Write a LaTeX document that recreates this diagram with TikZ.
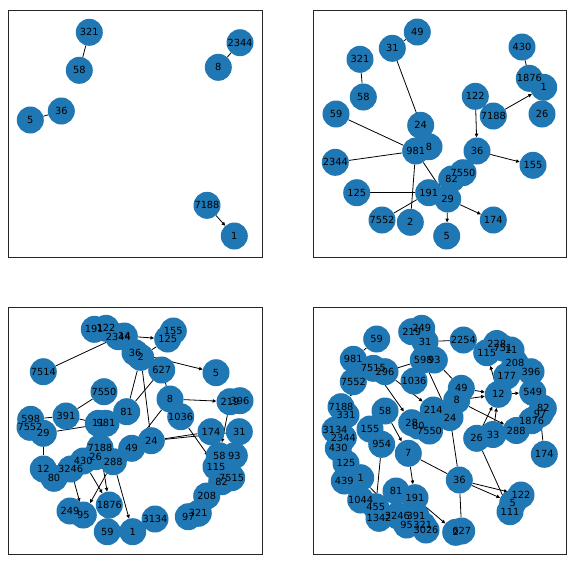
\documentclass[tikz,border=0pt]{standalone}
\usepackage{fontspec}
\setmainfont{DejaVu Sans}
\usetikzlibrary{arrows.meta}
\definecolor{nxblue}{HTML}{1F77B4}
\pgfdeclarelayer{edges}
\pgfdeclarelayer{disks}
\pgfsetlayers{edges,disks,main}
% vertex: name, x, y, label (disk goes below every label)
\newcommand{\vtx}[4]{%
  \node[vtx] (#1) at (#2,#3) {#4};
  \begin{pgfonlayer}{disks}\fill[nxblue] (#2,#3) circle[radius=13.5];\end{pgfonlayer}}
\begin{document}
\begin{tikzpicture}[
    x=1pt, y=-1pt,
    vtx/.style={circle, minimum size=27pt, inner sep=0pt, font=\fontsize{9.8}{11}\selectfont},
    arc/.style={-{Triangle[length=3.6pt,width=3.4pt]}, line width=0.8pt},
    link/.style={line width=0.8pt},
    frame/.style={line width=0.7pt, draw=black!85}
]
    \useasboundingbox (0,0) rectangle (577,566);

    % Frames
    \draw[frame] (8.3,10) rectangle (262.7,257.3);
    \draw[frame] (313.3,10) rectangle (566.7,257.3);
    \draw[frame] (8.3,307.3) rectangle (262.7,554);
    \draw[frame] (313.3,307.3) rectangle (566.7,554);

    % Top left
    \vtx{a321}{89.3}{32.3}{321}  \vtx{a58}{79.3}{70.3}{58}
    \vtx{a2344}{240}{42.7}{2344} \vtx{a8}{218.3}{67.3}{8}
    \vtx{a36}{61.3}{111}{36}     \vtx{a5}{30.3}{120}{5}
    \vtx{a7188}{207}{205.3}{7188} \vtx{a1}{234.3}{236}{1}
    \begin{pgfonlayer}{edges}
        \draw[link] (a58) -- (a321);
        \draw[link] (a8) -- (a2344);
        \draw[link] (a36) -- (a5);
        \draw[arc] (a7188) -- (a1);
    \end{pgfonlayer}

    % Top right
    \vtx{b49}{417.3}{32}{49}     \vtx{b31}{392.3}{48.3}{31}
    \vtx{b321}{360}{59.3}{321}   \vtx{b58}{363.3}{97}{58}
    \vtx{b59}{336}{114}{59}      \vtx{b24}{420.7}{125.3}{24}
    \vtx{b430}{522}{47}{430}     \vtx{b1876}{529.3}{78.3}{1876}
    \vtx{b1}{543.7}{87.3}{1}     \vtx{b26}{542}{114}{26}
    \vtx{b122}{475.3}{96.3}{122} \vtx{b7188}{493.3}{116}{7188}
    \vtx{b981}{415.7}{151}{981}  \vtx{b8}{429}{146.7}{8}
    \vtx{b36}{477}{151}{36}      \vtx{b155}{533}{165.3}{155}
    \vtx{b2344}{335.3}{162.3}{2344}
    \vtx{b7550}{463}{172.7}{7550} \vtx{b82}{451.7}{179}{82}
    \vtx{b191}{428.7}{192.7}{191} \vtx{b29}{447.7}{199}{29}
    \vtx{b125}{356.7}{192.7}{125} \vtx{b7552}{382}{220}{7552}
    \vtx{b2}{410.3}{222.3}{2}    \vtx{b174}{493.3}{220}{174}
    \vtx{b5}{446.7}{236}{5}
    \begin{pgfonlayer}{edges}
        \draw[link] (b49) -- (b31);
        \draw[arc] (b31) -- (b8);
        \draw[link] (b321) -- (b58);
        \draw[link] (b59) -- (b981);
        \draw[link] (b2344) -- (b981);
        \draw[link] (b981) -- (b2);
        \draw[arc] (b981) -- (b29);
        \draw[link] (b7552) -- (b191);
        \draw[link] (b125) -- (b191);
        \draw[arc] (b122) -- (b36);
        \draw[arc] (b36) -- (b155);
        \draw[arc] (b7188) -- (b1);
        \draw[link] (b430) -- (b1876);
        \draw[arc] (b29) -- (b174);
        \draw[arc] (b29) -- (b5);
    \end{pgfonlayer}

    % Bottom left
    \vtx{c191}{94.3}{329.3}{191}  \vtx{c122}{106}{328.3}{122}
    \vtx{c2344}{118.3}{336.7}{2344} \vtx{c14}{124.3}{336}{14}
    \vtx{c36}{135}{352.7}{36}     \vtx{c2}{140.7}{357.3}{2}
    \vtx{c155}{173.3}{331}{155}   \vtx{c125}{167.7}{339}{125}
    \vtx{c627}{161.7}{370}{627}   \vtx{c5}{216}{372.7}{5}
    \vtx{c7514}{43.3}{371.7}{7514} \vtx{c7550}{104}{391.7}{7550}
    \vtx{c391}{66}{416}{391}      \vtx{c81}{126.7}{411.7}{81}
    \vtx{c11}{98.3}{423.3}{11}    \vtx{c981}{106}{423.3}{981}
    \vtx{c598}{30.7}{419.3}{598}  \vtx{c7552}{30}{427.3}{7552}
    \vtx{c29}{43.3}{433.3}{29}    \vtx{c8}{170}{399}{8}
    \vtx{c1036}{180.7}{416.7}{1036}
    \vtx{c219}{230}{401.7}{219}   \vtx{c396}{240}{400.7}{396}
    \vtx{c174}{211}{431.7}{174}   \vtx{c31}{239.3}{431.7}{31}
    \vtx{c24}{151.3}{440.7}{24}   \vtx{c49}{131.7}{448.3}{49}
    \vtx{c58}{219.3}{455.7}{58}   \vtx{c93}{234.3}{455.7}{93}
    \vtx{c115}{216}{466.7}{115}   \vtx{c7515}{231.7}{477.7}{7515}
    \vtx{c82}{221.7}{481.7}{82}   \vtx{c208}{206.7}{496}{208}
    \vtx{c321}{198.3}{513.3}{321} \vtx{c97}{188.3}{516.7}{97}
    \vtx{c3134}{155}{519}{3134}   \vtx{c1}{132.7}{531.7}{1}
    \vtx{c12}{43.3}{469}{12}      \vtx{c80}{54}{478.3}{80}
    \vtx{c3246}{70.7}{469}{3246}  \vtx{c430}{83.3}{461}{430}
    \vtx{c26}{95.7}{456.7}{26}    \vtx{c7188}{100}{447.7}{7188}
    \vtx{c288}{113.3}{461.7}{288} \vtx{c1876}{109.3}{505}{1876}
    \vtx{c249}{70}{511}{249}      \vtx{c95}{83.3}{515}{95}
    \vtx{c59}{107.3}{531.7}{59}
    \begin{pgfonlayer}{edges}
        \draw[link] (c7514) -- (c2344);
        \draw[arc] (c14) -- (c125);
        \draw[link] (c2) -- (c125);
        \draw[arc] (c36) -- (c5);
        \draw[link] (c2) -- (c24);
        \draw[link] (c627) -- (c81);
        \draw[link] (c81) -- (c2);
        \draw[link] (c627) -- (c8);
        \draw[arc] (c8) -- (c219);
        \draw[arc] (c219) -- (c58);
        \draw[arc] (c1036) -- (c115);
        \draw[link] (c24) -- (c174);
        \draw[link] (c24) -- (c31);
        \draw[arc] (c8) -- (c49);
        \draw[link] (c391) -- (c11);
        \draw[link] (c391) -- (c7550);
        \draw[link] (c598) -- (c391);
        \draw[link] (c29) -- (c981);
        \draw[link] (c29) -- (c12);
        \draw[arc] (c3246) -- (c95);
        \draw[arc] (c288) -- (c95);
        \draw[arc] (c430) -- (c1876);
        \draw[arc] (c7188) -- (c1876);
        \draw[arc] (c288) -- (c1);
    \end{pgfonlayer}

    % Bottom right
    \vtx{d59}{376.7}{339}{59}     \vtx{d219}{411.7}{331.7}{219}
    \vtx{d249}{421.7}{328.3}{249} \vtx{d31}{425}{341.7}{31}
    \vtx{d598}{423.3}{360}{598}   \vtx{d93}{434.3}{360}{93}
    \vtx{d981}{353.3}{359.3}{981} \vtx{d7515}{373.3}{368.3}{7515}
    \vtx{d296}{385}{371.7}{296}   \vtx{d7552}{353.3}{381.7}{7552}
    \vtx{d1036}{414}{381}{1036}   \vtx{d7188}{341}{406.7}{7188}
    \vtx{d331}{346}{415}{331}     \vtx{d58}{385}{411}{58}
    \vtx{d214}{433.3}{410}{214}   \vtx{d28}{411.7}{422.7}{28}
    \vtx{d80}{418.3}{426}{80}     \vtx{d7550}{429.5}{431}{7550}
    \vtx{d3134}{335}{430}{3134}   \vtx{d155}{370}{429}{155}
    \vtx{d2344}{343.3}{437.7}{2344} \vtx{d430}{338.3}{448.3}{430}
    \vtx{d954}{381.7}{444.3}{954} \vtx{d7}{408.3}{453.3}{7}
    \vtx{d125}{346}{463.3}{125}   \vtx{d1}{360.7}{477.7}{1}
    \vtx{d439}{344.3}{481}{439}   \vtx{d81}{396}{491}{81}
    \vtx{d191}{415}{497.7}{191}   \vtx{d1044}{360.7}{500}{1044}
    \vtx{d455}{375.7}{506.7}{455} \vtx{d1342}{379}{518.3}{1342}
    \vtx{d3246}{397.3}{515.7}{3246} \vtx{d391}{416}{515.7}{391}
    \vtx{d95}{406.7}{525}{95}     \vtx{d321}{422.7}{525}{321}
    \vtx{d3026}{426}{530}{3026}   \vtx{d2254}{463.3}{340}{2254}
    \vtx{d228}{496.7}{343.5}{228} \vtx{d751}{503}{348}{751}
    \vtx{d11}{511}{350}{11}       \vtx{d115}{486.7}{352.7}{115}
    \vtx{d208}{515}{362.7}{208}   \vtx{d177}{506.7}{376}{177}
    \vtx{d396}{531}{371.7}{396}   \vtx{d549}{532.7}{392.3}{549}
    \vtx{d12}{498.3}{394.3}{12}   \vtx{d49}{461.3}{388.3}{49}
    \vtx{d8}{456.7}{400.3}{8}     \vtx{d24}{450}{417.5}{24}
    \vtx{d82}{543.3}{408.3}{82}   \vtx{d97}{540}{414}{97}
    \vtx{d1876}{531.7}{420.7}{1876} \vtx{d288}{516.3}{430.5}{288}
    \vtx{d33}{493}{434.5}{33}     \vtx{d26}{476.7}{438.3}{26}
    \vtx{d174}{544.3}{454.3}{174} \vtx{d36}{459.3}{480}{36}
    \vtx{d122}{521}{495}{122}     \vtx{d5}{512.7}{503.3}{5}
    \vtx{d111}{510}{511.7}{111}   \vtx{d627}{461.7}{531}{627}
    \vtx{d2}{455.7}{532.3}{2}
    \begin{pgfonlayer}{edges}
        \draw[link] (d981) -- (d59);
        \draw[link] (d31) -- (d2254);
        \draw[link] (d296) -- (d598);
        \draw[link] (d598) -- (d24);
        \draw[link] (d93) -- (d49);
        \draw[arc] (d296) -- (d214);
        \draw[arc] (d7515) -- (d7188);
        \draw[arc] (d7515) -- (d28);
        \draw[arc] (d58) -- (d7);
        \draw[arc] (d7) -- (d191);
        \draw[link] (d24) -- (d36);
        \draw[arc] (d36) -- (d122);
        \draw[arc] (d36) -- (d5);
        \draw[link] (d36) -- (d627);
        \draw[link] (d7) -- (d36);
        \draw[arc] (d191) -- (d2);
        \draw[arc] (d26) -- (d111);
        \draw[arc] (d33) -- (d12);
        \draw[arc] (d26) -- (d12);
        \draw[arc] (d8) -- (d288);
        \draw[arc] (d49) -- (d12);
        \draw[arc] (d8) -- (d12);
        \draw[arc] (d12) -- (d549);
        \draw[arc] (d12) -- (d115);
        \draw[link] (d97) -- (d174);
        \draw[link] (d954) -- (d455);
        \draw[arc] (d1) -- (d3246);
    \end{pgfonlayer}
\end{tikzpicture}
\end{document}
